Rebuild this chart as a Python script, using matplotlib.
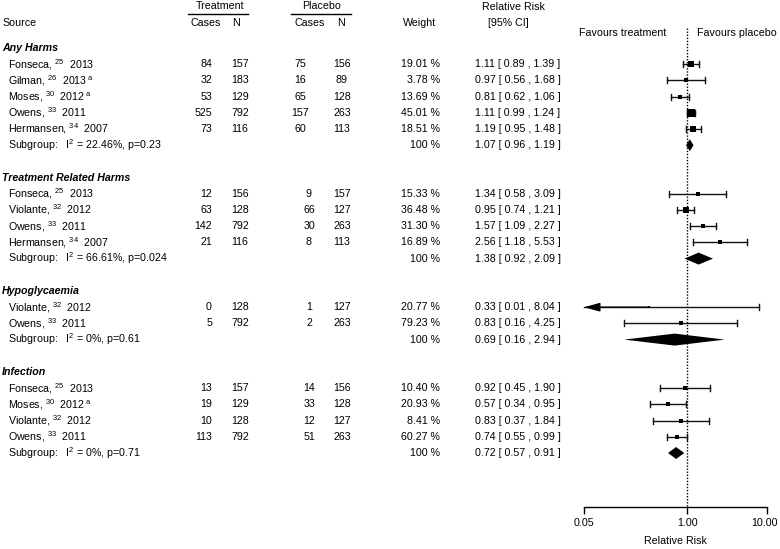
import matplotlib
matplotlib.use("Agg")
import matplotlib.pyplot as plt
from matplotlib.transforms import blended_transform_factory, ScaledTranslation
from matplotlib.ticker import NullLocator
import numpy as np

plt.rcParams['font.family'] = ['Liberation Sans', 'DejaVu Sans']
plt.rcParams['mathtext.fontset'] = 'custom'
plt.rcParams['mathtext.rm'] = 'Liberation Sans'
plt.rcParams['mathtext.it'] = 'Liberation Sans:italic'
plt.rcParams['mathtext.bf'] = 'Liberation Sans:bold'

# ---------------- data ----------------
group_names = ["Any Harms", "Treatment Related Harms", "Hypoglycaemia", "Infection"]

study_names = [
    ["Fonseca", "Gilman", "Moses", "Owens", "Hermansen"],
    ["Fonseca", "Violante", "Owens", "Hermansen"],
    ["Violante", "Owens"],
    ["Fonseca", "Moses", "Violante", "Owens"],
]
study_refs = [
    ["25", "26", "30", "33", "34"],
    ["25", "32", "33", "34"],
    ["32", "33"],
    ["25", "30", "32", "33"],
]
study_years = [
    ["2013", "2013", "2012", "2011", "2007"],
    ["2013", "2012", "2011", "2007"],
    ["2012", "2011"],
    ["2013", "2012", "2012", "2011"],
]
study_notes = [
    ["", "a", "a", "", ""],
    ["", "", "", ""],
    ["", ""],
    ["", "a", "", ""],
]
treat_cases = [[84, 32, 53, 525, 73], [12, 63, 142, 21], [0, 5], [13, 19, 10, 113]]
treat_n = [[157, 183, 129, 792, 116], [156, 128, 792, 116], [128, 792], [157, 129, 128, 792]]
plac_cases = [[75, 16, 65, 157, 60], [9, 66, 30, 8], [1, 2], [14, 33, 12, 51]]
plac_n = [[156, 89, 128, 263, 113], [157, 127, 263, 113], [127, 263], [156, 128, 127, 263]]
weights = [
    [19.01, 3.78, 13.69, 45.01, 18.51],
    [15.33, 36.48, 31.30, 16.89],
    [20.77, 79.23],
    [10.40, 20.93, 8.41, 60.27],
]
rr = [[1.11, 0.97, 0.81, 1.11, 1.19], [1.34, 0.95, 1.57, 2.56], [0.33, 0.83], [0.92, 0.57, 0.83, 0.74]]
rr_lo = [[0.89, 0.56, 0.62, 0.99, 0.95], [0.58, 0.74, 1.09, 1.18], [0.01, 0.16], [0.45, 0.34, 0.37, 0.55]]
rr_hi = [[1.39, 1.68, 1.06, 1.24, 1.48], [3.09, 1.21, 2.27, 5.53], [8.04, 4.25], [1.90, 0.95, 1.84, 0.99]]

sub_i2 = ["22.46%", "66.61%", "0%", "0%"]
sub_p = ["0.23", "0.024", "0.61", "0.71"]
sub_rr = [1.07, 1.38, 0.69, 0.72]
sub_lo = [0.96, 0.92, 0.16, 0.57]
sub_hi = [1.19, 2.09, 2.94, 0.91]

x_ticks = [0.05, 1.0, 10.0]
x_tick_labels = ["0.05", "1.00", "10.00"]

# ---------------- layout ----------------
W, H = 780, 549
FS = 7.7
row0_px = 48.0       # pixel y of first group header
row_px = 16.2        # pixels per row
axis_px = 507.0      # pixel y of x axis line
x0_px, x1_px = 584.0, 767.0
LC = "#111111"

fig = plt.figure(figsize=(W / 100, H / 100), dpi=100)
fig.patch.set_facecolor("white")
ax = fig.add_axes([x0_px / W, 1 - axis_px / H, (x1_px - x0_px) / W, axis_px / H])
ax.set_xscale("log")
ax.set_xlim(x_ticks[0], x_ticks[-1])
ax.set_ylim((axis_px - row0_px) / row_px, -row0_px / row_px)
for s in ["left", "top", "right"]:
    ax.spines[s].set_visible(False)
ax.spines["bottom"].set_linewidth(1.0)
ax.set_yticks([])
ax.set_xticks(x_ticks)
ax.set_xticklabels(x_tick_labels)
ax.xaxis.set_minor_locator(NullLocator())
ax.tick_params(axis="x", length=5, width=1.0, labelsize=FS, pad=3)
ax.set_xlabel("Relative Risk", fontsize=FS, labelpad=6)
ax.patch.set_alpha(0)
last_lab = ax.get_xticklabels()[-1]
last_lab.set_transform(last_lab.get_transform() + ScaledTranslation(-3 / 100, 0, fig.dpi_scale_trans))

trans = blended_transform_factory(fig.transFigure, ax.transData)


def tx(px, row, s, ha="left", **kw):
    ax.text(px / W, row, s, transform=trans, ha=ha, va="center", fontsize=FS, **kw)


def ftx(px, py, s, ha="center", **kw):
    fig.text(px / W, 1 - py / H, s, ha=ha, va="center", fontsize=FS, **kw)


# headers
ftx(220, 6, "Treatment")
ftx(322, 6, "Placebo")
fig.add_artist(plt.Line2D([188 / W, 248 / W], [1 - 14 / H, 1 - 14 / H], color="black", lw=1.0))
fig.add_artist(plt.Line2D([291 / W, 351 / W], [1 - 14 / H, 1 - 14 / H], color="black", lw=1.0))
ftx(2, 23, "Source", ha="left")
ftx(206, 23, "Cases")
ftx(236, 23, "N")
ftx(310, 23, "Cases")
ftx(341, 23, "N")
ftx(420, 23, "Weight")
ftx(513, 7, "Relative Risk")
ftx(508, 23, "[95% CI]")
ftx(666, 33, "Favours treatment", ha="right")
ftx(777, 33, "Favours placebo", ha="right")

plac_case_x = [300, 309, 309, 309]
half_h = 0.37
cap = 3.0 / row_px

row = 0
for g, gname in enumerate(group_names):
    tx(2, row, gname, fontweight="bold", fontstyle="italic")
    for k in range(len(rr[g])):
        row += 1
        note = r"$^{\ \mathrm{%s}}$" % study_notes[g][k] if study_notes[g][k] else ""
        label = "%s, $^{%s}$  %s%s" % (study_names[g][k], study_refs[g][k], study_years[g][k], note)
        tx(8, row, label)
        tx(212, row, str(treat_cases[g][k]), ha="right")
        tx(240, row, str(treat_n[g][k]), ha="center")
        tx(plac_case_x[g], row, str(plac_cases[g][k]), ha="center")
        tx(342, row, str(plac_n[g][k]), ha="center")
        tx(440, row, "%.2f %%" % weights[g][k], ha="right")
        tx(475, row, "%.2f [ %.2f , %.2f ]" % (rr[g][k], rr_lo[g][k], rr_hi[g][k]))

        est, lo, hi = rr[g][k], rr_lo[g][k], rr_hi[g][k]
        prec = 2 * 1.96 / (np.log(hi) - np.log(lo))
        size_px = 2.8 + 0.3 * prec
        xmin = x_ticks[0]
        if lo < xmin:
            ax.plot([xmin, hi], [row, row], color=LC, lw=1.0, clip_on=False)
            ax.plot([hi, hi], [row - cap, row + cap], color=LC, lw=1.0, clip_on=False)
            ax.annotate("", xy=(xmin, row), xytext=(est, row),
                        arrowprops=dict(arrowstyle="-|>,head_length=0.95,head_width=0.26",
                                        color="black", lw=1.0, shrinkA=0, shrinkB=0,
                                        mutation_scale=10),
                        annotation_clip=False)
        else:
            ax.plot([lo, hi], [row, row], color=LC, lw=1.0, clip_on=False)
            ax.plot([lo, lo], [row - cap, row + cap], color=LC, lw=1.0, clip_on=False)
            ax.plot([hi, hi], [row - cap, row + cap], color=LC, lw=1.0, clip_on=False)
        ax.plot(est, row, marker="s", ms=size_px * 0.72, color="black", mew=0,
                linestyle="none", zorder=5, clip_on=False)
    row += 1
    tx(8, row, "Subgroup:   I$^2$ = %s, p=%s" % (sub_i2[g], sub_p[g]))
    tx(440, row, "100 %", ha="right")
    tx(475, row, "%.2f [ %.2f , %.2f ]" % (sub_rr[g], sub_lo[g], sub_hi[g]))
    ax.fill([sub_lo[g], sub_rr[g], sub_hi[g], sub_rr[g]],
            [row, row - half_h, row, row + half_h], color="black", lw=0, zorder=4, clip_on=False)
    row += 2

# reference line
ax.plot([1, 1], [(28 - row0_px) / row_px, (axis_px - row0_px) / row_px], color="black",
        lw=1.0, linestyle=(0, (1, 1.2)), zorder=1, clip_on=False)

fig.savefig("out.png", dpi=100, facecolor="white")
